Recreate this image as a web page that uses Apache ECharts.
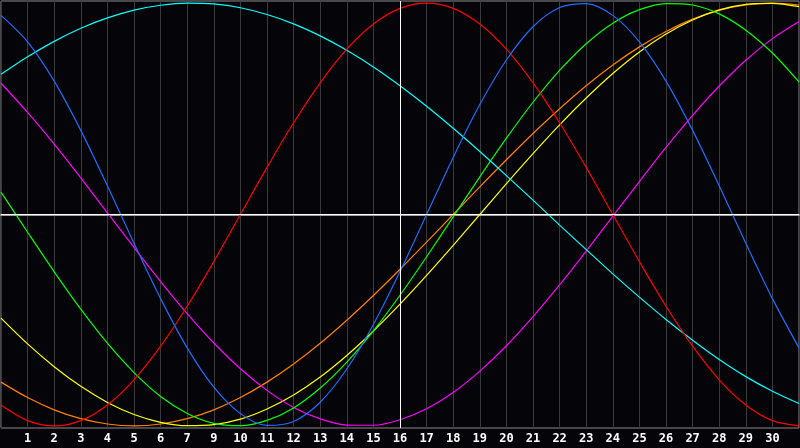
<!DOCTYPE html>
<html>
<head>
<meta charset="utf-8">
<script src="https://cdn.jsdelivr.net/npm/echarts@6/dist/echarts.min.js"></script>
<style>
  html, body { margin: 0; padding: 0; background: #050408; }
  #chart-panel { width: 800px; height: 448px; }
</style>
</head>
<body>
<div id="chart-panel"></div>
<script>
// day index 0..30 along x, tick labels under grid lines (no label under 0 and 30, "8" is skipped)
var days = [0, 1, 2, 3, 4, 5, 6, 7, 8, 9, 10, 11, 12, 13, 14, 15, 16, 17, 18, 19, 20, 21, 22, 23, 24, 25, 26, 27, 28, 29, 30]
var dayLabels = ['', '1', '2', '3', '4', '5', '6', '7', '9', '10', '11', '12', '13', '14', '15', '16', '17', '18', '19', '20', '21', '22', '23', '24', '25', '26', '27', '28', '29', '30', '']
var todayIndex = 15

// curve values, percent (-100..100)
var redValues = [-90.1, -97.5, -100, -97.5, -90.1, -78.2, -62.3, -43.4, -22.3, 0, 22.3, 43.4, 62.3, 78.2, 90.1, 97.5, 100, 97.5, 90.1, 78.2, 62.3, 43.4, 22.3, 0, -22.3, -43.4, -62.3, -78.2, -90.1, -97.5, -100]
var cyanValues = [66.3, 74.6, 81.9, 88.1, 93.0, 96.7, 99.0, 100, 99.6, 97.8, 94.6, 90.2, 84.5, 77.7, 69.8, 60.9, 51.2, 40.8, 29.8, 18.4, 6.8, -5.0, -16.6, -28.1, -39.1, -49.7, -59.5, -68.6, -76.7, -83.6, -89.4]
var blueValues = [94.2, 81.7, 63.1, 39.8, 13.6, -13.6, -39.8, -63.1, -81.7, -94.2, -99.8, -97.9, -88.8, -73.1, -52.0, -27.0, 0, 27.0, 52.0, 73.1, 88.8, 97.9, 99.8, 94.2, 81.7, 63.1, 39.8, 13.6, -13.6, -39.8, -63.1]
var greenValues = [10.6, -8.4, -27.1, -44.8, -60.9, -74.8, -86.1, -94.1, -98.8, -99.9, -97.4, -91.5, -82.1, -69.8, -55.0, -38.2, -20.0, -1.1, 17.8, 36.1, 53.1, 68.2, 80.8, 90.5, 96.9, 99.8, 99.1, 94.9, 87.2, 76.4, 62.7]
var magentaValues = [62.1, 48.3, 33.3, 17.3, 0.8, -15.6, -31.7, -46.9, -60.8, -73.0, -83.2, -91.3, -96.7, -99.6, -99.7, -97.1, -91.9, -84.2, -74.1, -62.1, -48.3, -33.3, -17.3, -0.8, 15.6, 31.7, 46.9, 60.8, 73.0, 83.2, 91.3]
var orangeValues = [-79.3, -86.6, -92.4, -96.6, -99.1, -100, -99.1, -96.6, -92.4, -86.6, -79.3, -70.7, -60.9, -50.0, -38.3, -25.9, -13.1, 0, 13.1, 25.9, 38.3, 50.0, 60.9, 70.7, 79.3, 86.6, 92.4, 96.6, 99.1, 100, 99.1]
var yellowValues = [-49.0, -61.2, -72.0, -81.3, -88.9, -94.6, -98.3, -99.9, -99.4, -96.8, -92.0, -85.4, -76.9, -66.7, -55.1, -42.4, -28.8, -14.6, 0, 14.6, 28.8, 42.4, 55.1, 66.7, 76.9, 85.4, 92.0, 96.8, 99.4, 99.9, 98.3]

function pairs (values) {
    return days.map(function (d, i) { return [d, values[i]] })
}

function curve (name, color, values) {
    return {
        name: name,
        type: 'line',
        smooth: 0.3,
        symbol: 'none',
        silent: true,
        lineStyle: {
            color: color,
            width: 1.2
        },
        data: pairs(values)
    }
}

var series = [
    curve('orange', '#ff8000', orangeValues),
    curve('yellow', '#ffff00', yellowValues),
    curve('magenta', '#ff00ff', magentaValues),
    curve('green', '#00ff00', greenValues),
    curve('cyan', '#00ffff', cyanValues),
    curve('red', '#ff0000', redValues),
    curve('blue', '#1e6eff', blueValues)
]

// white "today" line + zero line
series.push({
    type: 'line',
    data: [],
    silent: true,
    markLine: {
        silent: true,
        symbol: 'none',
        animation: false,
        label: { show: false },
        lineStyle: {
            color: '#ffffff',
            width: 1,
            type: 'solid'
        },
        data: [
            { xAxis: todayIndex },
            { yAxis: 0 }
        ]
    }
})

var chartOption = {
    backgroundColor: '#050408',
    animation: false,
    grid: {
        show: true,
        left: 1,
        right: 1,
        top: 1,
        bottom: 20,
        borderColor: '#8c8c8c',
        borderWidth: 1
    },
    xAxis: {
        type: 'value',
        min: 0,
        max: 30,
        interval: 1,
        axisLine: {
            show: true,
            lineStyle: {
                color: '#a0a0a0',
                width: 2
            }
        },
        axisTick: { show: false },
        axisLabel: {
            show: true,
            color: '#ffffff',
            fontFamily: 'DejaVu Sans Mono',
            fontWeight: 'bold',
            fontSize: 12,
            margin: 5,
            showMinLabel: false,
            showMaxLabel: false,
            formatter: function (value) {
                return dayLabels[value] || ''
            }
        },
        splitLine: {
            show: true,
            lineStyle: {
                color: '#3a3a3a',
                width: 1
            }
        }
    },
    yAxis: {
        type: 'value',
        min: -101,
        max: 101,
        show: false,
        splitLine: { show: false }
    },
    series: series
}

var chartPanel = document.getElementById('chart-panel')
var myChart = echarts.init(chartPanel)
myChart.setOption(chartOption)
</script>
</body>
</html>
